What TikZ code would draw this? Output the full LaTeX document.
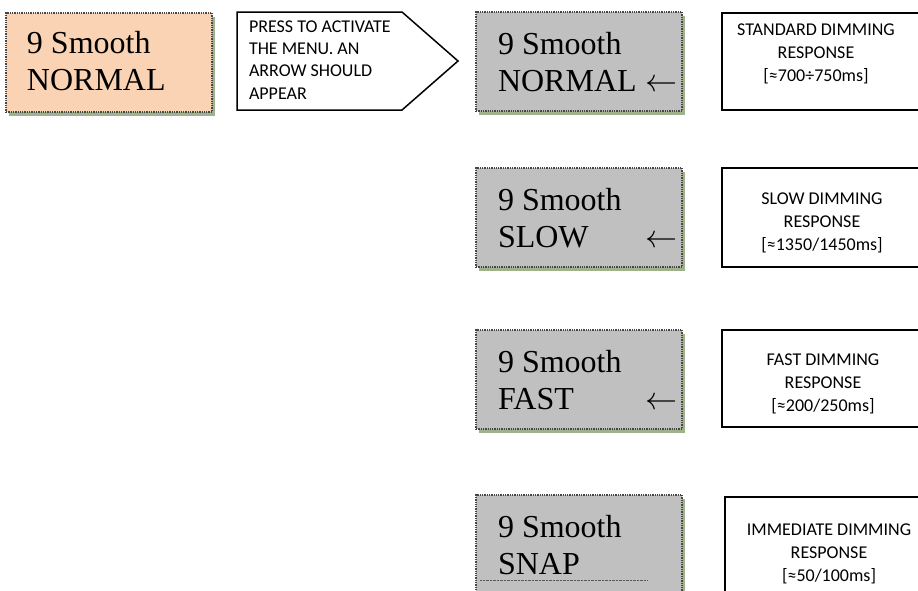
\RequirePackage{fix-cm}
\documentclass[tikz,border=0pt]{standalone}
\usepackage{fontspec}
\setmainfont{Liberation Serif}
\newfontfamily\calibri{Carlito}
\usetikzlibrary{shadows}
\definecolor{peach}{RGB}{249,211,179}
\definecolor{lcdgray}{RGB}{192,192,192}
\definecolor{moss}{RGB}{160,178,140}
\begin{document}
\begin{tikzpicture}
  [x=1pt,y=-1pt,every node/.style={inner sep=0pt,outer sep=0pt}]
  \tikzstyle{lcd} = [rectangle,anchor=north west,minimum width=206pt,minimum height=99pt,
    draw=gray!55!black,densely dotted,line width=1.3pt,
    drop shadow={fill=moss,opacity=1,shadow xshift=3pt,shadow yshift=-4pt}]
  \tikzstyle{lcdtext} = [anchor=base west,font=\fontsize{32}{37}\selectfont]
  \tikzstyle{note} = [rectangle,anchor=north west,draw,line width=1.5pt,minimum width=210pt]
  \tikzstyle{notetext} = [anchor=north,align=center,font=\calibri\fontsize{18}{23}\selectfont]
  \useasboundingbox (0,0) rectangle (918,590);
  \node[lcd,fill=peach] (n0) at (6,13) {};
  \node[lcdtext] (n0a) at (27,53) {9 Smooth};
  \node[lcdtext] (n0b) at (27,90) {NORMAL};
  \draw[line width=1.5pt,line join=miter] (237,12) -- (402,12) -- (458,61) -- (402,110) -- (237,110) -- cycle;
  \node[anchor=north west,align=left,font=\calibri\fontsize{18}{22.4}\selectfont]
    (menutext) at (249,20.5) {PRESS TO ACTIVATE\\THE MENU. AN\\ARROW SHOULD\\APPEAR};
\foreach \name/\top/\word in {n1/12/NORMAL,n2/168/SLOW,n3/330/FAST,n4/495/SNAP} {
   \node[lcd,fill=lcdgray] (\name) at (476,\top) {};
   \node[lcdtext] (\name a) at (498,\top+42) {9 Smooth};
   \node[lcdtext] (\name b) at (498,\top+79) {\word};
}
\foreach \name/\top in {n1/12,n2/168,n3/330}
   \node[lcdtext,anchor=base east] (\name c) at (677,\top+79) {$\leftarrow$};
  \draw[densely dotted,gray!70!black] (480,580) -- (647,580);
\foreach \name/\x/\top/\h in {r1/722/13/97,r2/722/168/99,r3/722/330/97,r4/725/497/110}
   \node[note,minimum height=\h pt] (\name) at (\x,\top) {};
  \node[notetext] (r1t) at (816,23.4) {STANDARD DIMMING\\RESPONSE\\{}[≈700÷750ms]};
  \node[notetext] (r2t) at (822,192.4) {SLOW DIMMING\\RESPONSE\\{}[≈1350/1450ms]};
  \node[notetext] (r3t) at (823,353.4) {FAST DIMMING\\RESPONSE\\{}[≈200/250ms]};
  \node[notetext] (r4t) at (829,523.4) {IMMEDIATE DIMMING\\RESPONSE\\{}[≈50/100ms]};
\end{tikzpicture}
\end{document}
